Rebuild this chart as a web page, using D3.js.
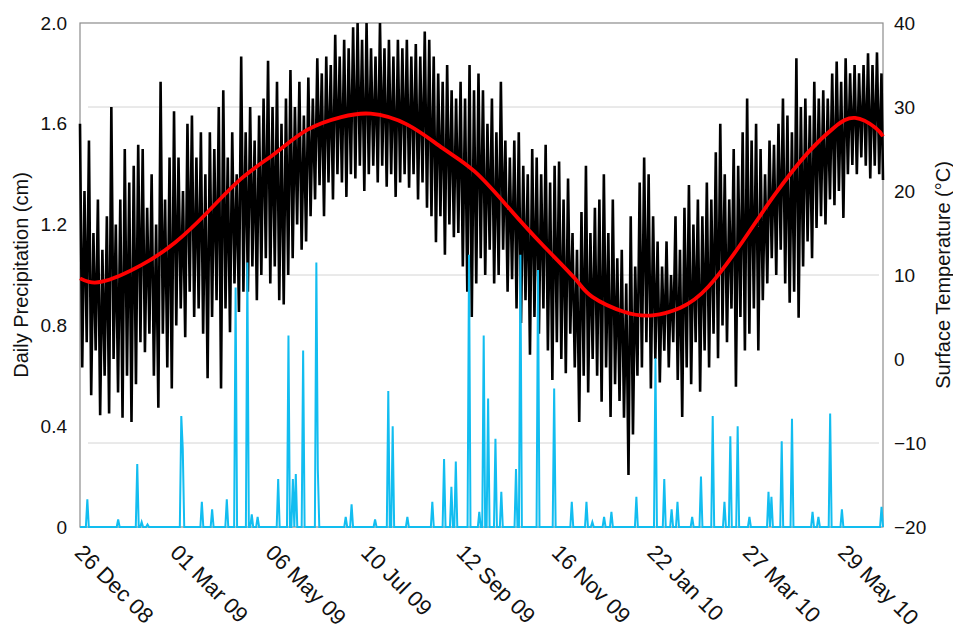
<!DOCTYPE html>
<html>
<head>
<meta charset="utf-8">
<script src="https://cdn.jsdelivr.net/npm/d3@7"></script>
<style>
  body { margin: 0; background: #fff; }
  text { font-family: "Liberation Sans", Arial, sans-serif; fill: #111; }
</style>
</head>
<body>
<div id="chart"></div>
<script>
// svg size and plot box
var svgWidth = 953;
var svgHeight = 629;
var plot = { left: 80, right: 883, top: 23, bottom: 527 };

// x axis: one label every 65 days
var dateLabels = ["26 Dec 08", "01 Mar 09", "06 May 09", "10 Jul 09", "12 Sep 09",
                  "16 Nov 09", "22 Jan 10", "27 Mar 10", "29 May 10"];
var labelEvery = 65;
var nDays = 547;

// surface temperature (C), max and min read every ~3 days
var tempStep = 3.05;
var tempHi = [28,20,26,15,19,13,17,30,16,19,
  25,21,23,25.5,25,18,22,16,33,19,
  24,29.5,24,20,28,29,24,27,22,27,
  25,30,32,24,27,22,36,27,30,26,
  29,31,35.5,30,33,28,31,34.4,30,33,
  29,33.5,31,35.8,34,36,35,38.6,36,38,
  37,39.5,40,38,40,37,36,40,37,38,
  36,38,37,38,36,37.5,36,39,38,36,
  34,33,35,32,31,33,31,35,32,34,
  32,28,31,27,33,26,24,26,27,23,
  22,25,24,22,25.5,21,23,23.5,19,21.5,
  15,13,17.5,23,15,18,19,22,15,19,
  12,13,9,17,11,21,24,22,17,14,
  11,14,10,17,13,18,20.7,16,19,17,
  21,19,24.6,28,22,19,25,23,27,31,
  26,28,25,22,26,25.5,28,31,29,27,
  35.8,30,31,29,33,31,32,31,34,35.4,
  33,35.8,34,35,34,35,36.4,35,36.5,34];
var tempLo = [-1,2,-4.3,1,-6.7,-2,-6.5,0,-4,-7,
  -2,-7.5,-3,2,0.8,3,-2,-5.8,3,-1,
  -3.5,4,6,2.6,8,5,6,3,-2.3,5,
  7,-3.5,6,3.2,9,5.6,8,8,11,7,
  10,12,9,11,7,6.5,10,12,16,13,
  14,17,19,20.7,17,21,19,22,21,19.3,
  22,21.5,23,20,22,23,21,23,20.5,22,
  19.3,21,22,20.4,22,19,21,18,17,13.9,
  17,12.4,16,14.5,15,11,8,5,9,12,
  10,13,9,10,13,8,9.5,6,4.3,7,
  0.5,5,3,6,1,-2.5,2,0,-1.7,3,
  -1,-7.5,-2,-4,0,-2,-5.1,-1,-6.9,-3,
  -5,-7,-13.8,-9,-2,-1,2,-3.5,0,-2.8,
  1,-1,2,-2.5,-6.9,-1,-3,2,-3.9,1,
  -1,3,0.1,4,2,6,-3.3,5,1,3,
  6,1,7,9,12,10,13,9,6.7,8,
  4.9,11,14,12,15.6,17,16,19,18.3,20,
  16.8,22,23.1,22,24,23,21.5,23,22,21.3];

// fitted seasonal curve (red)
var fitDay  = [0, 15, 42, 65, 87, 110, 133, 155, 178, 198, 223, 247, 269, 292, 315, 337, 349, 371, 390, 409, 428, 451, 473, 496, 514, 528, 542, 547];
var fitTemp = [9.6, 9.2, 11.2, 13.9, 17.5, 21.5, 24.5, 27.3, 28.8, 29.2, 27.9, 25.1, 22.3, 18.0, 13.6, 9.6, 7.4, 5.6, 5.2, 6.1, 8.6, 13.9, 19.5, 24.6, 27.6, 28.7, 27.5, 26.5];

// daily precipitation (cm), only the rain days
var rainDay = [5, 26, 39, 42, 46, 69, 70, 83, 90, 100, 106, 114, 117, 121, 135, 142, 145, 147, 152, 161, 162,
  181, 185, 201, 210, 213, 223, 240, 248, 253, 256, 265, 272, 275, 278, 283, 287, 297, 300, 312, 323,
  335, 345, 349, 357, 362, 379, 392, 398, 403, 407, 417, 423, 431, 439, 443, 448, 456, 469, 471, 478,
  485, 499, 503, 511, 519, 546];
var rainCm = [0.11, 0.03, 0.25, 0.02, 0.01, 0.44, 0.31, 0.10, 0.07, 0.11, 0.95, 1.05, 0.05, 0.04, 0.19, 0.76, 0.19, 0.21, 0.70, 1.05, 0.23,
  0.04, 0.09, 0.03, 0.54, 0.40, 0.04, 0.10, 0.27, 0.16, 0.26, 1.08, 0.06, 0.76, 0.51, 0.35, 0.14, 0.23, 1.08, 1.02, 0.55,
  0.10, 0.10, 0.02, 0.04, 0.06, 0.12, 0.67, 0.19, 0.07, 0.10, 0.04, 0.20, 0.44, 0.10, 0.36, 0.40, 0.04, 0.14, 0.12, 0.34,
  0.43, 0.06, 0.04, 0.45, 0.07, 0.08];

var svg = d3.select("#chart").append("svg")
  .attr("width", svgWidth)
  .attr("height", svgHeight);

var xScale = d3.scaleLinear().domain([0, nDays]).range([plot.left, plot.right]);
var yRain = d3.scaleLinear().domain([0, 2]).range([plot.bottom, plot.top]);
var yTemp = d3.scaleLinear().domain([-20, 40]).range([plot.bottom, plot.top]);

// faint grid lines
svg.append("g").selectAll("line")
  .data([30, 10, -10])
  .enter().append("line")
  .attr("x1", plot.left + 8).attr("x2", plot.right - 4)
  .attr("y1", d => yTemp(d)).attr("y2", d => yTemp(d))
  .attr("stroke", "#d4d4d4").attr("stroke-width", 1);

// plot frame
svg.append("rect")
  .attr("x", plot.left).attr("y", plot.top)
  .attr("width", plot.right - plot.left).attr("height", plot.bottom - plot.top)
  .attr("fill", "none").attr("stroke", "#8c8c8c").attr("stroke-width", 1.2);

// temperature zigzag between max and min
var tempPts = [];
tempHi.forEach((hi, i) => {
  tempPts.push([i * tempStep, hi]);
  tempPts.push([i * tempStep + tempStep / 2, tempLo[i]]);
});
var tempLine = d3.line()
  .x(d => xScale(Math.min(d[0], nDays)))
  .y(d => yTemp(d[1]));
svg.append("path")
  .datum(tempPts)
  .attr("d", tempLine)
  .attr("fill", "none")
  .attr("stroke", "#000")
  .attr("stroke-width", 2.6)
  .attr("stroke-linejoin", "miter")
  .attr("stroke-miterlimit", 2);

// precipitation, zero on dry days
var rainSeries = d3.range(nDays + 1).map(d => {
  var k = rainDay.indexOf(d);
  return k >= 0 ? rainCm[k] : 0;
});
var rainLine = d3.line()
  .x((d, i) => xScale(i))
  .y(d => yRain(d));
svg.append("path")
  .datum(rainSeries)
  .attr("d", rainLine)
  .attr("fill", "none")
  .attr("stroke", "#12bdf0")
  .attr("stroke-width", 2);

// red fitted curve
var fitLine = d3.line()
  .x((d, i) => xScale(fitDay[i]))
  .y(d => yTemp(d))
  .curve(d3.curveNatural);
svg.append("path")
  .datum(fitTemp)
  .attr("d", fitLine)
  .attr("fill", "none")
  .attr("stroke", "#ff0000")
  .attr("stroke-width", 3.8);

// axes
var leftAxis = d3.axisLeft(yRain)
  .tickValues([0, 0.4, 0.8, 1.2, 1.6, 2.0])
  .tickFormat(d => d === 0 ? "0" : d3.format(".1f")(d))
  .tickSize(0).tickPadding(13);
var rightAxis = d3.axisRight(yTemp)
  .tickValues([-20, -10, 0, 10, 20, 30, 40])
  .tickSize(0).tickPadding(11);
var bottomAxis = d3.axisBottom(xScale)
  .tickValues(dateLabels.map((d, i) => i * labelEvery))
  .tickFormat((d, i) => dateLabels[i])
  .tickSize(0);

var gl = svg.append("g").attr("transform", `translate(${plot.left},0)`).call(leftAxis);
var gr = svg.append("g").attr("transform", `translate(${plot.right},0)`).call(rightAxis);
var gb = svg.append("g").attr("transform", `translate(0,${plot.bottom})`).call(bottomAxis);

[gl, gr, gb].forEach(g => {
  g.select(".domain").remove();
  g.selectAll("text").attr("font-family", null).attr("fill", "#111").style("font-size", "19px");
});
gb.selectAll("text")
  .attr("y", 0).attr("dy", 0)
  .attr("text-anchor", "start")
  .attr("transform", "translate(-7,27) rotate(45)")
  .style("font-size", "22px");

// axis titles
svg.append("text")
  .attr("transform", "translate(28,275) rotate(-90)")
  .attr("text-anchor", "middle")
  .style("font-size", "20px")
  .text("Daily Precipitation (cm)");
svg.append("text")
  .attr("transform", "translate(950,275) rotate(-90)")
  .attr("text-anchor", "middle")
  .style("font-size", "20px")
  .text("Surface Temperature (\u00B0C)");
</script>
</body>
</html>
